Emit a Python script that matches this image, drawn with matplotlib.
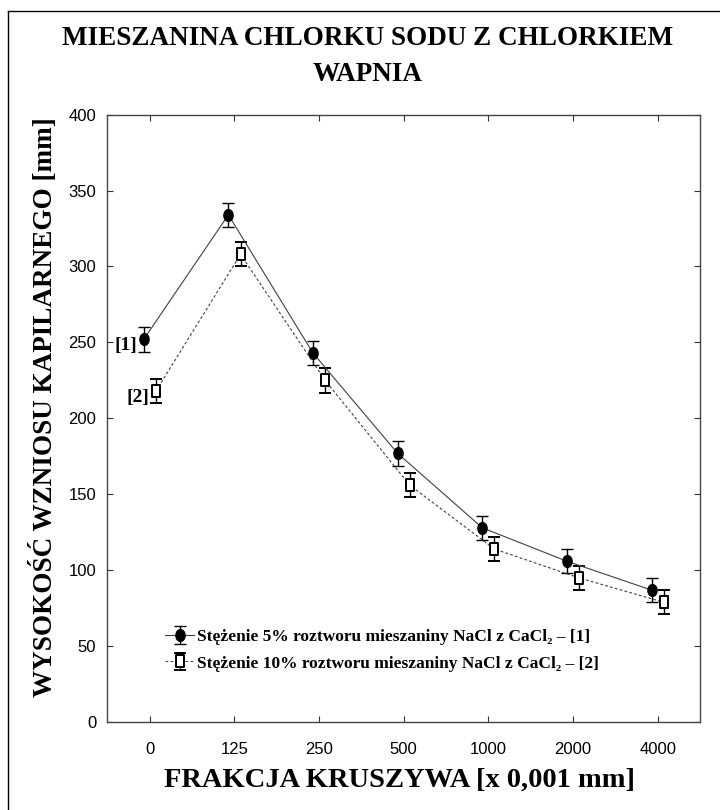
import numpy as np
import matplotlib
matplotlib.use('Agg')
import matplotlib.pyplot as plt
from matplotlib.path import Path
from matplotlib.lines import Line2D
from matplotlib.transforms import Affine2D

# data
fractions = ['0', '125', '250', '500', '1000', '2000', '4000']
height_5 = [252, 334, 243, 177, 128, 106, 87]
err_5 = [8, 8, 8, 8, 8, 8, 8]
height_10 = [218, 308, 225, 156, 114, 95, 79]
err_10 = [8, 8, 8, 8, 8, 8, 8]
label_5 = 'Stężenie 5% roztworu mieszaniny NaCl z CaCl₂ – [1]'
label_10 = 'Stężenie 10% roztworu mieszaniny NaCl z CaCl₂ – [2]'

serif = ['Liberation Serif', 'DejaVu Serif']
narrow = ['Liberation Sans Narrow', 'Liberation Sans', 'DejaVu Sans']

# slightly tall markers like in the original
oval = Path.unit_circle().transformed(Affine2D().scale(0.78, 1.0))
rect = Path([(-0.65, -1), (0.65, -1), (0.65, 1), (-0.65, 1), (-0.65, -1)],
            [Path.MOVETO, Path.LINETO, Path.LINETO, Path.LINETO, Path.CLOSEPOLY])

fig = plt.figure(figsize=(7.2, 8.1), dpi=100)
ax = fig.add_axes([0.1493, 0.1083, 0.8229, 0.7503])

x = np.arange(len(fractions))
off = 0.072

ax.errorbar(x - off, height_5, yerr=err_5, color='#404040', lw=0.8,
            marker=oval, ms=8.5, mfc='black', mec='black',
            ecolor='black', elinewidth=1.0, capsize=4.5, capthick=1.0,
            label=label_5)
ax.errorbar(x + off, height_10, yerr=err_10, color='#404040', lw=0.8,
            ls=(0, (2.5, 2)), marker=rect, ms=8.5, mfc='white', mec='black', mew=1.4,
            ecolor='black', elinewidth=1.0, capsize=4.5, capthick=1.0,
            label=label_10)

ax.text(-off - 0.08, height_5[0] - 4, '[1]', ha='right', va='center',
        family=serif, weight='bold', fontsize=14)
ax.text(off - 0.075, height_10[0] - 4, '[2]', ha='right', va='center',
        family=serif, weight='bold', fontsize=14)

ax.set_xlim(-0.5, 6.5)
ax.set_ylim(0, 400)
ax.set_xticks(x)
ax.set_xticklabels(fractions)
ax.set_yticks(np.arange(0, 401, 50))
ax.tick_params(direction='in', length=4, width=0.8, color='#333333',
               top=True, right=True, labelsize=12)
ax.tick_params(axis='x', pad=14)
ax.tick_params(axis='y', pad=8)
for lab in ax.get_xticklabels() + ax.get_yticklabels():
    lab.set_family(narrow)
for sp in ax.spines.values():
    sp.set_color('#444444')
    sp.set_linewidth(1.0)

leg = ax.legend(loc='lower left', bbox_to_anchor=(0.085, 0.072), frameon=False,
                prop={'family': serif, 'weight': 'bold', 'size': 12.5},
                handlelength=1.7, handletextpad=0.15, labelspacing=0.6,
                borderaxespad=0)

fig.text(0.51, 0.953, 'MIESZANINA CHLORKU SODU Z CHLORKIEM', ha='center', va='center',
         family=serif, weight='bold', fontsize=19.5)
fig.text(0.51, 0.908, 'WAPNIA', ha='center', va='center',
         family=serif, weight='bold', fontsize=19.5)
fig.text(0.061, 0.497, 'WYSOKOŚĆ WZNIOSU KAPILARNEGO [mm]', rotation=90,
         ha='center', va='center', family=serif, weight='bold', fontsize=19.5)
fig.text(0.555, 0.037, 'FRAKCJA KRUSZYWA [x 0,001 mm]', ha='center', va='center',
         family=serif, weight='bold', fontsize=20.5)

# frame lines visible on the left and top of the original picture
fig.add_artist(Line2D([8 / 720, 8 / 720], [0, 1 - 11 / 810], transform=fig.transFigure,
                      color='black', lw=1.0))
fig.add_artist(Line2D([8 / 720, 1], [1 - 11 / 810, 1 - 11 / 810], transform=fig.transFigure,
                      color='black', lw=1.0))

fig.savefig('out.png', dpi=100)
